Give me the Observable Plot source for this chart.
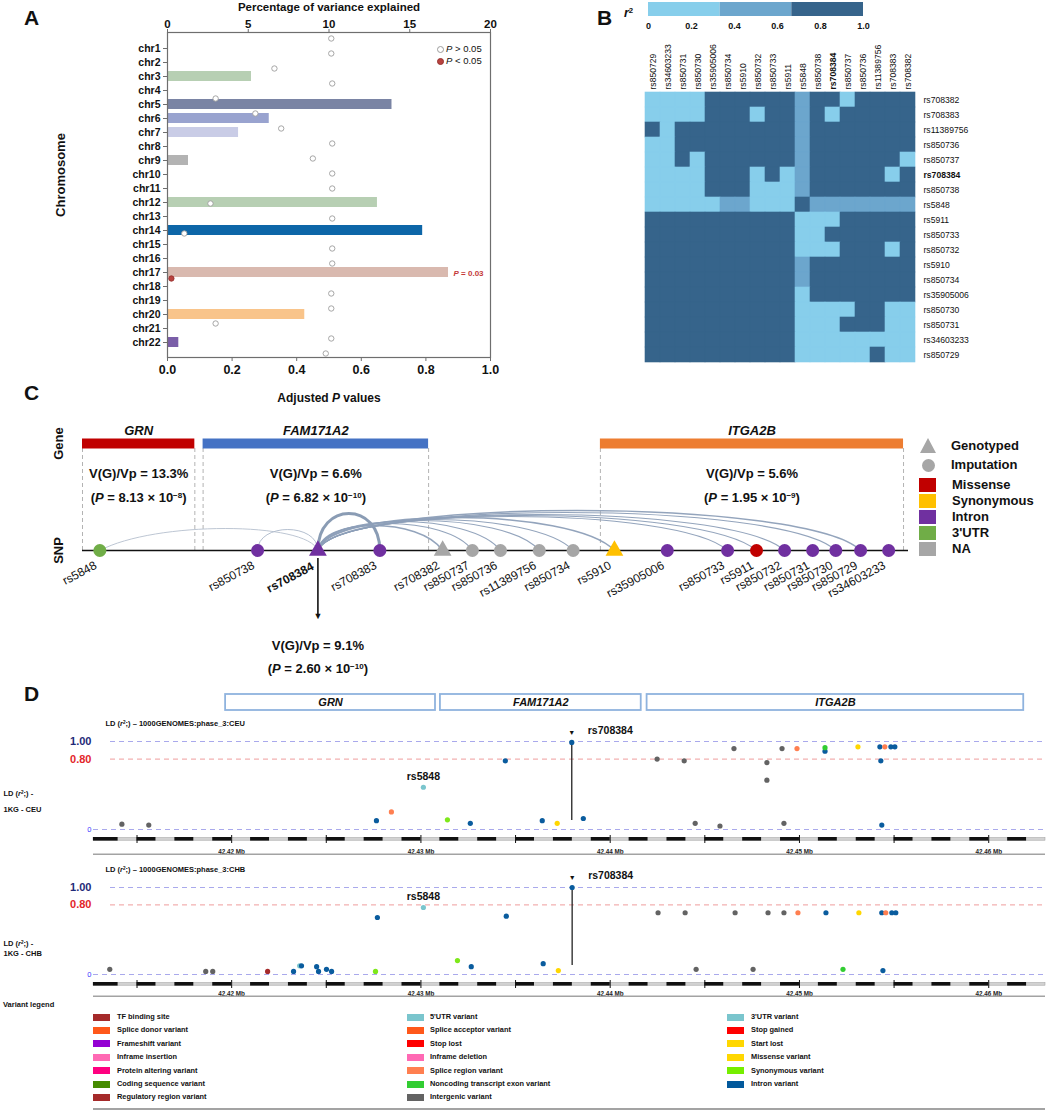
<!DOCTYPE html>
<html><head><meta charset="utf-8">
<script src="https://cdn.jsdelivr.net/npm/d3@7"></script>
<script src="https://cdn.jsdelivr.net/npm/@observablehq/plot@0.6"></script>
<style>
body{margin:0;background:#fff;}
#fig{position:relative;width:1050px;height:1112px;overflow:hidden;background:#fff;font-family:"Liberation Sans",Arial,Helvetica,sans-serif;color:#111;}
.pane{position:absolute;}
.pane svg{display:block;}
.letter{position:absolute;font-weight:bold;font-size:21px;line-height:21px;}
.lg{position:absolute;font-weight:bold;white-space:nowrap;}
</style></head><body><div id="fig"></div>
<script>
// ---------------- Panel A data ----------------
const chromosomes = ["chr1","chr2","chr3","chr4","chr5","chr6","chr7","chr8","chr9","chr10","chr11","chr12","chr13","chr14","chr15","chr16","chr17","chr18","chr19","chr20","chr21","chr22"];
const varianceExplained = [0,0,5.2,0,13.9,6.3,4.4,0,1.3,0,0,13.0,0,15.8,0,0,17.4,0,0,8.5,0,0.7];
const adjustedP = [0.507,0.507,0.331,0.51,0.149,0.272,0.352,0.51,0.45,0.51,0.51,0.133,0.51,0.052,0.51,0.51,0.012,0.507,0.507,0.149,0.507,0.49];
const significantPText = "0.03";
const pLegendLabels = ["> 0.05", "< 0.05"];

// ---------------- Panel B data ----------------
const ldColumns = ["rs850729","rs34603233","rs850731","rs850730","rs35905006","rs850734","rs5910","rs850732","rs850733","rs5911","rs5848","rs850738","rs708384","rs850737","rs850736","rs11389756","rs708383","rs708382"];
const ldRows = ["rs708382","rs708383","rs11389756","rs850736","rs850737","rs708384","rs850738","rs5848","rs5911","rs850733","rs850732","rs5910","rs850734","rs35905006","rs850730","rs850731","rs34603233","rs850729"];
const ldMatrix = [
 [0.15,0.15,0.15,0.15,0.85,0.85,0.85,0.85,0.85,0.85,0.5,0.85,0.85,0.15,0.85,0.85,0.85,0.85],
 [0.15,0.15,0.15,0.15,0.85,0.85,0.85,0.15,0.85,0.85,0.5,0.85,0.15,0.85,0.85,0.85,0.85,0.85],
 [0.85,0.15,0.85,0.85,0.85,0.85,0.85,0.85,0.85,0.85,0.5,0.85,0.85,0.85,0.85,0.85,0.85,0.85],
 [0.15,0.15,0.85,0.85,0.85,0.85,0.85,0.85,0.85,0.85,0.5,0.85,0.85,0.85,0.85,0.85,0.85,0.85],
 [0.15,0.15,0.85,0.15,0.85,0.85,0.85,0.85,0.85,0.85,0.5,0.85,0.85,0.85,0.85,0.85,0.85,0.15],
 [0.15,0.15,0.15,0.15,0.85,0.85,0.85,0.15,0.85,0.15,0.5,0.85,0.85,0.85,0.85,0.85,0.15,0.85],
 [0.15,0.15,0.15,0.15,0.85,0.85,0.85,0.15,0.15,0.15,0.5,0.85,0.85,0.85,0.85,0.85,0.85,0.85],
 [0.15,0.15,0.15,0.15,0.15,0.5,0.5,0.15,0.15,0.15,0.85,0.5,0.5,0.5,0.5,0.5,0.5,0.5],
 [0.85,0.85,0.85,0.85,0.85,0.85,0.85,0.85,0.85,0.85,0.15,0.15,0.15,0.85,0.85,0.85,0.85,0.85],
 [0.85,0.85,0.85,0.85,0.85,0.85,0.85,0.85,0.85,0.85,0.15,0.15,0.85,0.85,0.85,0.85,0.85,0.85],
 [0.85,0.85,0.85,0.85,0.85,0.85,0.85,0.85,0.85,0.85,0.15,0.15,0.15,0.85,0.85,0.85,0.15,0.85],
 [0.85,0.85,0.85,0.85,0.85,0.85,0.85,0.85,0.85,0.85,0.5,0.85,0.85,0.85,0.85,0.85,0.85,0.85],
 [0.85,0.85,0.85,0.85,0.85,0.85,0.85,0.85,0.85,0.85,0.5,0.85,0.85,0.85,0.85,0.85,0.85,0.85],
 [0.85,0.85,0.85,0.85,0.85,0.85,0.85,0.85,0.85,0.85,0.15,0.85,0.85,0.85,0.85,0.85,0.85,0.85],
 [0.85,0.85,0.85,0.85,0.85,0.85,0.85,0.85,0.85,0.85,0.15,0.15,0.15,0.15,0.85,0.85,0.15,0.15],
 [0.85,0.85,0.85,0.85,0.85,0.85,0.85,0.85,0.85,0.85,0.15,0.15,0.15,0.85,0.85,0.85,0.15,0.15],
 [0.85,0.85,0.85,0.85,0.85,0.85,0.85,0.85,0.85,0.85,0.15,0.15,0.15,0.15,0.15,0.15,0.15,0.15],
 [0.85,0.85,0.85,0.85,0.85,0.85,0.85,0.85,0.85,0.85,0.15,0.15,0.15,0.15,0.15,0.85,0.15,0.15]
];
const r2Breaks = [0, 1/3, 2/3, 1];
const r2Ticks = [0, 0.2, 0.4, 0.6, 0.8, 1.0];

// ---------------- Panel C data ----------------
const cGenes = ["GRN","FAM171A2","ITGA2B"];
const cGeneStart = [0, 14.6, 62.7];
const cGeneEnd = [13.6, 41.9, 99.4];
const cGeneVG = [13.3, 6.6, 5.6];
const cGeneP = ["8.13 × 10^−8^","6.82 × 10^−10^","1.95 × 10^−9^"];
const cSnpIds = ["rs5848","rs850738","rs708384","rs708383","rs708382","rs850737","rs850736","rs11389756","rs850734","rs5910","rs35905006","rs850733","rs5911","rs850732","rs850731","rs850730","rs850729","rs34603233"];
const cSnpPos = [2.1,21.2,28.5,36.0,43.6,47.2,50.6,55.3,59.4,64.4,70.8,78.1,81.6,85.0,88.4,91.2,94.2,97.6];
const cSnpSource = ["Imputation","Imputation","Genotyped","Imputation","Genotyped","Imputation","Imputation","Imputation","Imputation","Genotyped","Imputation","Imputation","Imputation","Imputation","Imputation","Imputation","Imputation","Imputation"];
const cSnpFunction = ["3'UTR","Intron","Intron","Intron","NA","NA","NA","NA","NA","Synonymous","Intron","Intron","Missense","Intron","Intron","Intron","Intron","Intron"];
const leadSnpId = "rs708384";
const leadVG = 9.1;
const leadP = "2.60 × 10^−10^";
const ldLinkTargets = ["rs5848","rs850738","rs708383","rs708382","rs850737","rs850736","rs11389756","rs850734","rs5910","rs850733","rs5911","rs850732","rs850730","rs850729"];
const cSourceLabels = ["Genotyped","Imputation"];
const cFunctionLabels = ["Missense","Synonymous","Intron","3'UTR","NA"];

// ---------------- Panel D data ----------------
const dRegion = [42.4127, 42.4630];
const dGenes = ["GRN","FAM171A2","ITGA2B"];
const dGeneStart = [42.41968, 42.43103, 42.44195];
const dGeneEnd = [42.43077, 42.44164, 42.46185];
const dMajorTicks = [42.42, 42.43, 42.44, 42.45, 42.46];
const ceuPoints = [
 [42.41420,0.06,"intergenic"],[42.41562,0.05,"intergenic"],[42.42765,0.10,"intron"],[42.42844,0.20,"splice_region"],
 [42.43013,0.48,"utr3","rs5848"],[42.43140,0.11,"synonymous"],[42.43261,0.07,"intron"],[42.43446,0.78,"intron"],
 [42.43641,0.10,"intron"],[42.43720,0.07,"missense"],[42.43858,0.125,"intron"],
 [42.44248,0.80,"intergenic"],[42.44391,0.78,"intergenic"],[42.44449,0.07,"intergenic"],[42.44580,0.04,"intergenic"],
 [42.44654,0.92,"intergenic"],[42.44828,0.76,"intergenic"],[42.44828,0.56,"intergenic"],[42.44908,0.92,"intergenic"],
 [42.44918,0.07,"intergenic"],[42.44987,0.92,"splice_region"],[42.45135,0.89,"intron"],[42.45135,0.93,"nc_exon"],
 [42.45309,0.94,"missense"],[42.45425,0.94,"intron"],[42.45430,0.78,"intron"],[42.45435,0.05,"intron"],
 [42.45451,0.94,"splice_region"],[42.45483,0.94,"intron"],[42.45504,0.94,"intron"],
 [42.43797,0.99,"intron","rs708384"]
];
const chbPoints = [
 [42.41356,0.06,"intergenic"],[42.41863,0.035,"intergenic"],[42.41900,0.035,"intergenic"],[42.42190,0.035,"regulatory"],
 [42.42327,0.035,"intron"],[42.42359,0.10,"utr3"],[42.42369,0.10,"intron"],[42.42449,0.09,"intron"],
 [42.42459,0.035,"intron"],[42.42501,0.06,"intron"],[42.42528,0.035,"intron"],[42.42760,0.035,"synonymous"],
 [42.42770,0.655,"intron"],[42.43013,0.77,"utr3","rs5848"],[42.43193,0.16,"synonymous"],[42.43266,0.09,"intron"],
 [42.43451,0.67,"intron"],[42.43646,0.125,"intron"],[42.43726,0.045,"missense"],
 [42.44253,0.71,"intergenic"],[42.44396,0.71,"intergenic"],[42.44454,0.06,"intergenic"],[42.44660,0.71,"intergenic"],
 [42.44755,0.06,"intergenic"],[42.44834,0.71,"intergenic"],[42.44918,0.71,"intergenic"],[42.44992,0.71,"splice_region"],
 [42.45140,0.71,"intron"],[42.45230,0.06,"nc_exon"],[42.45314,0.71,"missense"],[42.45435,0.71,"intron"],
 [42.45441,0.045,"intron"],[42.45456,0.71,"splice_region"],[42.45488,0.71,"intron"],[42.45509,0.71,"intron"],
 [42.43799,1.0,"intron","rs708384"]
];
const ldRefLevels = [1.0, 0.8];
const variantLegendCol1 = ["TF binding site","Splice donor variant","Frameshift variant","Inframe insertion","Protein altering variant","Coding sequence variant","Regulatory region variant"];
const variantLegendCol2 = ["5'UTR variant","Splice acceptor variant","Stop lost","Inframe deletion","Splice region variant","Noncoding transcript exon variant","Intergenic variant"];
const variantLegendCol3 = ["3'UTR variant","Stop gained","Start lost","Missense variant","Synonymous variant","Intron variant"];

// ---------------- styles ----------------
const chrColor = {chr3:"#b7cfb3",chr5:"#7a84a4",chr6:"#99a3cf",chr7:"#c9cce6",chr9:"#b3b3b3",chr12:"#b7cfb3",chr14:"#0d66a8",chr17:"#d9b9af",chr20:"#f9c48a",chr22:"#7a5ea8"};
const r2Colors = ["#87CEEB","#6CA6CD","#36648B"];
const geneColorC = {GRN:"#c00000",FAM171A2:"#4472c4",ITGA2B:"#ed7d31"};
const funcColor = {Missense:"#c00000",Synonymous:"#ffc000",Intron:"#7030a0","3'UTR":"#70ad47",NA:"#a6a6a6"};
const csqColor = {intergenic:"#636363",intron:"#0a5c9e",splice_region:"#ff7f50",utr3:"#7ac5cd",synonymous:"#7ee81a",missense:"#ffd700",nc_exon:"#32cd32",regulatory:"#a52a2a"};
const legendColor = {"TF binding site":"#a52a2a","Splice donor variant":"#ff581a","Frameshift variant":"#9400d3","Inframe insertion":"#ff69b4","Protein altering variant":"#ff0080","Coding sequence variant":"#458b00","Regulatory region variant":"#a52a2a","5'UTR variant":"#7ac5cd","Splice acceptor variant":"#ff581a","Stop lost":"#ff0000","Inframe deletion":"#ff69b4","Splice region variant":"#ff7f50","Noncoding transcript exon variant":"#32cd32","Intergenic variant":"#636363","3'UTR variant":"#7ac5cd","Stop gained":"#ff0000","Start lost":"#ffd700","Missense variant":"#ffd700","Synonymous variant":"#76ee00","Intron variant":"#02599c"};
// arc shapes: [height px, source pull, target pull, width, color]
const arcStyle = {
 rs5848:[22,0.05,0.25,1,"#b9c3d1"], rs850738:[21,0,0,1,"#b0bccc"], rs708383:[37,0,0,3,"#8497b0"],
 rs708382:[25,0.04,0.18,1.4,"#8d9fb8"], rs850737:[27,0.04,0.16,1.2,"#8d9fb8"], rs850736:[29,0.04,0.16,1.2,"#8d9fb8"],
 rs11389756:[30,0.04,0.15,1.2,"#8d9fb8"], rs850734:[31,0.04,0.15,1.2,"#8d9fb8"], rs5910:[33,0.04,0.14,1.5,"#8d9fb8"],
 rs850733:[34,0.04,0.12,1.2,"#8d9fb8"], rs5911:[35,0.04,0.12,1.2,"#8d9fb8"], rs850732:[36,0.04,0.11,1.2,"#8d9fb8"],
 rs850730:[38,0.04,0.1,1.2,"#8d9fb8"], rs850729:[40,0.04,0.1,1.5,"#8d9fb8"]
};

const FONT = '"Liberation Sans", Arial, Helvetica, sans-serif';
const STYLE = `background: transparent; overflow: visible; font-family: ${FONT};`;
const fig = document.getElementById("fig");
const SVGNS = "http://www.w3.org/2000/svg";

// *x* -> italic, ^x^ -> superscript
function decorate(svg) {
  svg.querySelectorAll("text, tspan").forEach(t => {
    if (![...t.childNodes].every(n => n.nodeType === 3)) return;
    const s = t.textContent;
    if (!/[*^]/.test(s)) return;
    t.textContent = "";
    s.split(/(\*[^*]+\*|\^[^^]+\^)/).forEach(part => {
      if (!part) return;
      const m = part.length > 2 && (part[0] === "*" || part[0] === "^") && part[part.length-1] === part[0];
      if (m) {
        const ts = document.createElementNS(SVGNS, "tspan");
        if (part[0] === "*") ts.setAttribute("font-style", "italic");
        else { ts.setAttribute("baseline-shift", "super"); ts.setAttribute("font-size", "0.62em"); }
        ts.textContent = part.slice(1, -1);
        t.appendChild(ts);
      } else t.appendChild(document.createTextNode(part));
    });
  });
}
function place(svg, left, top, w, h) {
  const d = document.createElement("div");
  d.className = "pane";
  d.style.cssText = `left:${left}px;top:${top}px;width:${w}px;height:${h}px;`;
  d.appendChild(svg);
  fig.appendChild(d);
  decorate(svg);
  return svg;
}
function boldLabel(svg, label) {
  svg.querySelectorAll("text").forEach(t => { if (t.textContent === label) t.setAttribute("font-weight", "bold"); });
}
function addHTML(html) { fig.insertAdjacentHTML("beforeend", html); }

// ================= Panel A =================
const chrRows = chromosomes.map((chr, i) => ({chr, pct: varianceExplained[i], p: adjustedP[i]}));
const chrBars = chrRows.filter(d => d.pct > 0);
place(Plot.plot({
  width: 520, height: 410, marginLeft: 167, marginRight: 30, marginTop: 32, marginBottom: 53,
  style: STYLE,
  x: {domain: [0, 20], axis: null},
  y: {domain: chromosomes, padding: 0.3, axis: null},
  color: {type: "identity"},
  marks: [
    Plot.barX(chrBars, {x: "pct", y: "chr", fill: d => chrColor[d.chr]}),
    Plot.frame({stroke: "#6e6e6e", strokeWidth: 1.2}),
    Plot.axisX({anchor: "top", ticks: [0,5,10,15,20], tickSize: 4, tickPadding: 1, fontSize: 11.5, fontWeight: "bold", stroke: "#6e6e6e", label: null}),
    Plot.axisY({anchor: "left", tickSize: 4, tickPadding: 3, fontSize: 10.5, fontWeight: "bold", stroke: "#6e6e6e", label: null}),
    Plot.text(["Percentage of variance explained"], {frameAnchor: "top", lineAnchor: "middle", dy: -25, fontSize: 11.5, fontWeight: "bold"}),
    Plot.text(["Chromosome"], {frameAnchor: "left", lineAnchor: "middle", textAnchor: "middle", rotate: -90, dx: -107, dy: -20, fontSize: 13, fontWeight: "bold"}),
    Plot.text(chrBars.filter(d => d.p < 0.05), {x: "pct", y: "chr", text: () => `*P* = ${significantPText}`, dx: 5, dy: 1, textAnchor: "start", fill: "#c43a3a", fontSize: 8, fontWeight: "bold"})
  ]
}), 0, 0, 520, 410);

place(Plot.plot({
  width: 520, height: 410, marginLeft: 167, marginRight: 30, marginTop: 32, marginBottom: 53,
  style: STYLE,
  x: {domain: [0, 1], axis: null},
  y: {domain: chromosomes, padding: 0.3, axis: null},
  color: {type: "identity"},
  marks: [
    Plot.dot(chrRows, {x: "p", y: "chr", r: 2.7, dy: 1, fill: d => d.p < 0.05 ? "#b9433f" : "#ffffff", stroke: d => d.p < 0.05 ? "#973230" : "#9c9c9c", strokeWidth: 0.9}),
    Plot.axisX({anchor: "bottom", ticks: [0,0.2,0.4,0.6,0.8,1], tickFormat: d3.format(".1f"), tickSize: 4, tickPadding: 4, fontSize: 12.5, fontWeight: "bold", stroke: "#6e6e6e", label: null}),
    Plot.text(["Adjusted *P* values"], {frameAnchor: "bottom", lineAnchor: "middle", dy: 41, fontSize: 12, fontWeight: "bold"})
  ]
}), 0, 0, 520, 410);

// P legend (HTML)
pLegendLabels.forEach((lab, i) => {
  const cy = 49 + i * 12;
  const sig = i === 1;
  addHTML(`<div style="position:absolute;left:${437}px;top:${cy-3}px;width:5px;height:5px;border-radius:50%;background:${sig ? "#b9433f" : "#fff"};border:0.9px solid ${sig ? "#973230" : "#9c9c9c"}"></div>`);
  addHTML(`<div class="lg" style="left:446px;top:${cy-6}px;font-size:9.5px;line-height:12px;font-weight:normal"><i>P</i> ${lab}</div>`);
});

// ================= Panel B =================
const r2Scale = {type: "threshold", domain: [1/3, 2/3], range: r2Colors};
const ldCells = ldRows.flatMap((row, i) => ldColumns.map((col, j) => ({row, col, r2: ldMatrix[i][j]})));
const heat = place(Plot.plot({
  width: 450, height: 370, marginLeft: 43, marginRight: 133, marginTop: 92, marginBottom: 8,
  style: STYLE,
  x: {domain: ldColumns, padding: 0, axis: null},
  y: {domain: ldRows, padding: 0, axis: null},
  color: r2Scale,
  marks: [
    Plot.cell(ldCells, {x: "col", y: "row", fill: "r2", stroke: "r2", strokeWidth: 0.6}),
    Plot.axisX({anchor: "top", tickSize: 0, tickPadding: 3, tickRotate: -90, fontSize: 8.6, label: null}),
    Plot.axisY({anchor: "right", tickSize: 0, tickPadding: 6, fontSize: 8.6, label: null})
  ]
}), 600, 0, 450, 370);
boldLabel(heat, leadSnpId);

const r2Bins = r2Breaks.slice(0, -1).map((b, i) => ({x1: b, x2: r2Breaks[i+1], v: (b + r2Breaks[i+1]) / 2}));
place(Plot.plot({
  width: 300, height: 35, marginLeft: 48, marginRight: 37, marginTop: 2, marginBottom: 19,
  style: STYLE,
  x: {domain: [0, 1], axis: null},
  color: r2Scale,
  marks: [
    Plot.barX(r2Bins, {x1: "x1", x2: "x2", fill: "v"}),
    Plot.axisX({anchor: "bottom", ticks: r2Ticks, tickFormat: d => d === 0 ? "0" : d.toFixed(1), tickSize: 0, tickPadding: 6, fontSize: 9, fontWeight: "bold", label: null}),
    Plot.text(["*r*^2^"], {frameAnchor: "left", lineAnchor: "middle", textAnchor: "middle", dx: -20, dy: 3, fontSize: 12.5, fontWeight: "bold"})
  ]
}), 600, 0, 300, 35);

// ================= Panel C =================
const snps = cSnpIds.map((id, i) => ({id, pos: cSnpPos[i], source: cSnpSource[i], func: cSnpFunction[i]}));
const lead = snps.find(d => d.id === leadSnpId);
const genesC = cGenes.map((name, i) => ({name, start: cGeneStart[i], end: cGeneEnd[i], vg: cGeneVG[i], p: cGeneP[i]}));
const geneEdges = genesC.flatMap(g => [g.start, g.end]);
const links = ldLinkTargets.map(t => ({target: t, x1: lead.pos, x2: snps.find(d => d.id === t).pos}));

function arcCurve(h, a, b) {
  return function(context) {
    let pts = [];
    return {
      areaStart() {}, areaEnd() {},
      lineStart() { pts = []; },
      point(x, y) { pts.push([+x, +y]); },
      lineEnd() {
        if (pts.length < 2) return;
        const [[x0, y0], [x1, y1]] = pts;
        const dx = x1 - x0, k = h / 0.75;
        context.moveTo(x0, y0);
        context.bezierCurveTo(x0 + a * dx, y0 - k, x1 - b * dx, y1 - k, x1, y1);
      }
    };
  };
}
const arcMarks = links.map(l => {
  const [h, a, b, w, c] = arcStyle[l.target];
  return Plot.link([l], {x1: "x1", x2: "x2", y1: () => "SNP", y2: () => "SNP", curve: arcCurve(h, a, b), stroke: c, strokeWidth: w, strokeOpacity: 0.95});
});
const SNP = () => "SNP", GENE = () => "Gene";
place(Plot.plot({
  width: 1050, height: 310, marginLeft: 82, marginRight: 142, marginTop: 0, marginBottom: 0,
  style: STYLE,
  x: {domain: [0, 100], axis: null},
  y: {type: "point", domain: ["Gene", "SNP"], range: [63, 170], padding: 0, axis: null},
  color: {type: "identity"},
  marks: [
    Plot.ruleX(geneEdges, {x: d => d, y1: GENE, y2: SNP, insetTop: 5, stroke: "#b3b3b3", strokeDasharray: "4,3", strokeWidth: 1}),
    Plot.ruleY(genesC, {x1: "start", x2: "end", y: GENE, stroke: d => geneColorC[d.name], strokeWidth: 10}),
    Plot.text(genesC, {x: d => (d.start + d.end) / 2, y: GENE, dy: -13, text: "name", fontStyle: "italic", fontWeight: "bold", fontSize: 13}),
    Plot.text(genesC, {x: d => (d.start + d.end) / 2, y: GENE, dy: 30, text: d => `V(G)/Vp = ${d.vg}%`, fontWeight: "bold", fontSize: 13}),
    Plot.text(genesC, {x: d => (d.start + d.end) / 2, y: GENE, dy: 54, text: d => `(*P* = ${d.p})`, fontWeight: "bold", fontSize: 13}),
    Plot.ruleY(["SNP"], {y: d => d, x1: () => 0, x2: () => 100, stroke: "#111", strokeWidth: 1.6}),
    ...arcMarks,
    Plot.ruleX([lead], {x: "pos", y1: SNP, y2: SNP, insetTop: 8, insetBottom: -64, stroke: "#111", strokeWidth: 1.6}),
    Plot.text([lead], {x: "pos", y: SNP, dy: 66, text: () => "▼", fontSize: 9, fill: "#111"}),
    Plot.text([lead], {x: "pos", y: SNP, dy: 95, text: () => `V(G)/Vp = ${leadVG}%`, fontWeight: "bold", fontSize: 13}),
    Plot.text([lead], {x: "pos", y: SNP, dy: 118, text: () => `(*P* = ${leadP})`, fontWeight: "bold", fontSize: 13}),
    Plot.dot(snps.filter(d => d.source === "Imputation"), {x: "pos", y: SNP, r: 6.5, fill: d => funcColor[d.func]}),
    Plot.dot(snps.filter(d => d.source === "Genotyped"), {x: "pos", y: SNP, symbol: "triangle", r: 6.6, fill: d => funcColor[d.func]}),
    Plot.text(snps.filter(d => d.id !== leadSnpId), {x: "pos", y: SNP, text: "id", rotate: -28, textAnchor: "end", dx: -4, dy: 14, fontSize: 12}),
    Plot.text([lead], {x: "pos", y: SNP, text: "id", rotate: -28, textAnchor: "end", dx: -5, dy: 15, fontSize: 12, fontWeight: "bold"}),
    Plot.text(["Gene", "SNP"], {y: d => d, text: d => d, frameAnchor: "left", textAnchor: "middle", lineAnchor: "middle", rotate: -90, dx: -24, fontSize: 13, fontWeight: "bold"})
  ]
}), 0, 380, 1050, 310);

// Panel C legend (HTML)
cSourceLabels.forEach((s, i) => {
  const cy = 446 + i * 19;
  if (s === "Genotyped") addHTML(`<div style="position:absolute;left:920px;top:${cy-8}px;width:0;height:0;border-left:8.5px solid transparent;border-right:8.5px solid transparent;border-bottom:15px solid #a6a6a6"></div>`);
  else addHTML(`<div style="position:absolute;left:921.5px;top:${cy-6.5}px;width:13px;height:13px;border-radius:50%;background:#a6a6a6"></div>`);
  addHTML(`<div class="lg" style="left:951px;top:${cy-8}px;font-size:13px;line-height:16px">${s}</div>`);
});
cFunctionLabels.forEach((s, i) => {
  const cy = 485 + i * 16;
  addHTML(`<div style="position:absolute;left:919px;top:${cy-7}px;width:17px;height:14px;background:${funcColor[s]}"></div>`);
  addHTML(`<div class="lg" style="left:952px;top:${cy-8}px;font-size:13px;line-height:16px">${s}</div>`);
});

// ================= Panel D =================
const genesD = dGenes.map((name, i) => ({name, start: dGeneStart[i], end: dGeneEnd[i]}));
place(Plot.plot({
  width: 1050, height: 25, marginLeft: 93, marginRight: 5, marginTop: 4, marginBottom: 5,
  style: STYLE,
  x: {domain: dRegion, axis: null},
  marks: [
    Plot.barX(genesD, {x1: "start", x2: "end", fill: "#fff", stroke: "#8fb3de", strokeWidth: 1.8}),
    Plot.text(genesD, {x: d => (d.start + d.end) / 2, text: "name", fontStyle: "italic", fontWeight: "bold", fontSize: 11})
  ]
}), 0, 690, 1050, 25);

function toPts(arr) { return arr.map(([pos, r2, csq, id]) => ({pos, r2, csq, id})); }
function track(points, pop, top, marginTop, ldDy) {
  const pts = toPts(points);
  const leadPt = pts.find(d => d.id === leadSnpId);
  const otherLabels = pts.filter(d => d.id && d.id !== leadSnpId);
  place(Plot.plot({
    width: 1050, height: 119, marginLeft: 93, marginRight: 5, marginTop, marginBottom: 5,
    style: STYLE,
    x: {domain: dRegion, axis: null},
    y: {domain: [0, 1], axis: null},
    color: {type: "identity"},
    marks: [
      Plot.ruleY([1.0], {stroke: "#a9a9ec", strokeDasharray: "5,4", insetLeft: 17}),
      Plot.ruleY([0.8], {stroke: "#ef9c9c", strokeDasharray: "5,4", insetLeft: 17}),
      Plot.ruleY([0], {stroke: "#a9a9ec", strokeDasharray: "5,4"}),
      Plot.text(ldRefLevels, {y: d => d, text: d => d.toFixed(2), frameAnchor: "left", textAnchor: "end", lineAnchor: "middle", dx: -2, fill: d => d === 1 ? "#1f2a78" : "#e3262a", fontSize: 11, fontWeight: "bold"}),
      Plot.text([0], {y: d => d, text: () => "0", frameAnchor: "left", textAnchor: "end", lineAnchor: "middle", dx: -2, fill: "#3a3aff", fontSize: 7.5}),
      Plot.ruleX([leadPt], {x: "pos", y1: () => 0, y2: "r2", insetTop: -9, stroke: "#222", strokeWidth: 1.3}),
      Plot.text([leadPt], {x: "pos", y: "r2", dy: -10, text: () => "▼", fontSize: 7, fill: "#111"}),
      Plot.dot(pts, {x: "pos", y: "r2", r: 2.6, fill: d => csqColor[d.csq]}),
      Plot.text([leadPt], {x: "pos", y: "r2", text: "id", textAnchor: "start", dx: 16, dy: -12, fontSize: 10.5, fontWeight: "bold"}),
      Plot.text(otherLabels, {x: "pos", y: "r2", text: "id", dy: -11, fontSize: 10.5, fontWeight: "bold"}),
      Plot.text([`LD (*r*^2^;) – 1000GENOMES:phase_3:${pop}`], {frameAnchor: "top-left", lineAnchor: "middle", dx: 12, dy: -18, fontSize: 7.5, fontWeight: "bold"}),
      Plot.text([`LD (*r*^2^;) -`], {frameAnchor: "left", textAnchor: "start", lineAnchor: "middle", dx: -90, dy: ldDy[0], fontSize: 7.5, fontWeight: "bold"}),
      Plot.text([`1KG - ${pop}`], {frameAnchor: "left", textAnchor: "start", lineAnchor: "middle", dx: -90, dy: ldDy[1], fontSize: 7.5, fontWeight: "bold"})
    ]
  }), 0, top, 1050, 119);
}
function ruler(top, height, labelDy) {
  const fh = height - 6;
  const black = d3.range(42.413, dRegion[1], 0.002).map((s, i) => ({x1: i === 0 ? dRegion[0] : s, x2: Math.min(s + 0.001, dRegion[1])}));
  const minor = d3.range(42.415, dRegion[1], 0.005);
  place(Plot.plot({
    width: 1050, height, marginLeft: 93, marginRight: 5, marginTop: 3, marginBottom: 3,
    style: STYLE,
    x: {domain: dRegion, axis: null},
    marks: [
      Plot.barX([dRegion], {x1: d => d[0], x2: d => d[1], fill: "#d2d2d2", stroke: "#9a9a9a", strokeWidth: 0.5, insetTop: 0.6, insetBottom: fh - 3.2}),
      Plot.barX(black, {x1: "x1", x2: "x2", fill: "#111", insetTop: 0, insetBottom: fh - 3.6}),
      Plot.ruleX(minor, {x: d => d, stroke: "#111", strokeWidth: 1, insetTop: -2, insetBottom: fh - 6}),
      Plot.text(dMajorTicks, {x: d => d, text: d => `${d.toFixed(2)} Mb`, dy: labelDy, fontSize: 6.3, fontWeight: "bold", fill: "#222"}),
      Plot.barX([dRegion], {x1: d => d[0], x2: d => d[1], fill: "#a3a3a3", insetTop: fh - 1.5, insetBottom: 0})
    ]
  }), 0, top, 1050, height);
}
track(ceuPoints, "CEU", 715, 26, [8, 24]);
ruler(834, 24, 5);
track(chbPoints, "CHB", 860, 27, [13, 23]);
ruler(979, 21, 3.5);

// Variant legend (HTML)
addHTML(`<div class="lg" style="left:3px;top:1000px;font-size:7.5px;line-height:10px">Variant legend</div>`);
[[variantLegendCol1, 93, 117], [variantLegendCol2, 407, 430], [variantLegendCol3, 727, 751]].forEach(([col, sx, tx]) => {
  col.forEach((lab, i) => {
    const cy = 1017 + i * 13.4;
    addHTML(`<div style="position:absolute;left:${sx}px;top:${cy-3.5}px;width:17px;height:7px;background:${legendColor[lab]}"></div>`);
    addHTML(`<div class="lg" style="left:${tx}px;top:${cy-5}px;font-size:7.4px;line-height:10px">${lab}</div>`);
  });
});
addHTML(`<div style="position:absolute;left:93px;top:1108px;width:952px;height:1.5px;background:#a3a3a3"></div>`);

// Panel letters
[["A", 24, 7], ["B", 597, 7], ["C", 24, 382], ["D", 24, 683]].forEach(([t, x, y]) => addHTML(`<div class="letter" style="left:${x}px;top:${y}px">${t}</div>`));
</script></body></html>
